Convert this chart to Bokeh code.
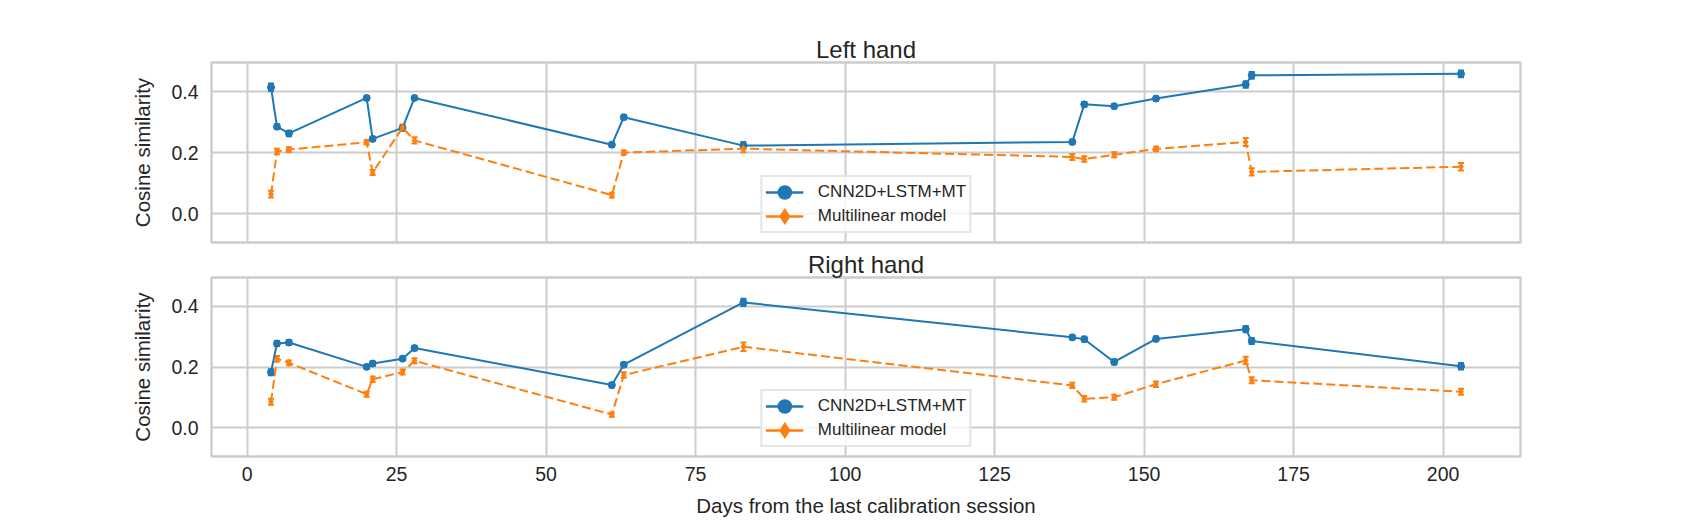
import numpy as np
from bokeh.plotting import figure
from bokeh.layouts import column
from bokeh.models import (ColumnDataSource, Whisker, TeeHead, FixedTicker, Legend,
                          LegendItem, Range1d)
from bokeh.embed import file_html
from bokeh.resources import INLINE

# ---------------- data ----------------
days = [4, 5, 7, 20, 21, 26, 28, 61, 63, 83, 138, 140, 145, 152, 167, 168, 203]

left_cnn = [0.414, 0.285, 0.263, 0.379, 0.245, 0.281, 0.379, 0.226, 0.316, 0.223,
            0.235, 0.358, 0.352, 0.377, 0.423, 0.453, 0.458]
left_cnn_err = [0.012, 0.008, 0.009, 0.006, 0.007, 0.007, 0.005, 0.007, 0.007, 0.012,
                0.007, 0.008, 0.007, 0.007, 0.011, 0.011, 0.011]
left_lin = [0.064, 0.204, 0.210, 0.234, 0.135, 0.282, 0.240, 0.061, 0.200, 0.213,
            0.186, 0.179, 0.193, 0.212, 0.235, 0.137, 0.154]
left_lin_err = [0.011, 0.009, 0.008, 0.007, 0.008, 0.010, 0.010, 0.008, 0.007, 0.012,
                0.010, 0.009, 0.008, 0.007, 0.013, 0.012, 0.012]

right_cnn = [0.183, 0.278, 0.281, 0.201, 0.212, 0.228, 0.263, 0.141, 0.208, 0.413,
             0.298, 0.292, 0.217, 0.293, 0.325, 0.286, 0.203]
right_cnn_err = [0.010, 0.008, 0.008, 0.006, 0.007, 0.006, 0.007, 0.008, 0.007, 0.012,
                 0.007, 0.008, 0.008, 0.008, 0.010, 0.010, 0.011]
right_lin = [0.086, 0.228, 0.214, 0.111, 0.160, 0.184, 0.221, 0.044, 0.174, 0.267,
             0.140, 0.096, 0.101, 0.144, 0.222, 0.157, 0.119]
right_lin_err = [0.010, 0.009, 0.008, 0.008, 0.009, 0.008, 0.008, 0.007, 0.009, 0.014,
                 0.009, 0.009, 0.008, 0.009, 0.012, 0.010, 0.010]

series_names = ["CNN2D+LSTM+MT", "Multilinear model"]
panel_titles = ["Left hand", "Right hand"]
x_ticks = [0, 25, 50, 75, 100, 125, 150, 175, 200]
y_ticks = [0.0, 0.2, 0.4]
x_label = "Days from the last calibration session"
y_label = "Cosine similarity"

BLUE = "#1f77b4"
ORANGE = "#ff7f0e"
GRID = "#cccccc"
TXT = "#262626"
FONT = "Liberation Sans"

x_range = Range1d(-5.95, 212.95)


def add_series(p, vals, errs, color, marker, msize, dash, leg_lw, join):
    x = np.array(days, dtype=float)
    y = np.array(vals)
    e = np.array(errs)
    src = ColumnDataSource(dict(x=x, y=y, lo=y - e, hi=y + e))
    p.line("x", "y", source=src, line_color=color, line_width=2, line_dash=dash)
    p.add_layout(Whisker(base="x", lower="lo", upper="hi", dimension="height", source=src,
                         line_color=color, line_width=2,
                         lower_head=TeeHead(size=6, line_color=color, line_width=2),
                         upper_head=TeeHead(size=6, line_color=color, line_width=2)))
    p.scatter("x", "y", source=src, marker=marker, size=msize, fill_color=color,
              line_color=color)
    # legend proxies (solid line with a large marker, as in the reference legend)
    proxy_l = p.line(x=[np.nan], y=[np.nan], line_color=color, line_width=2.5)
    proxy_m = p.scatter(x=[np.nan], y=[np.nan], marker=marker, size=13,
                        fill_color=color, line_color=color, line_width=leg_lw,
                        line_join=join)
    return [proxy_l, proxy_m]


def make_panel(title, cnn, cnn_err, lin, lin_err, bottom_axis, height, top, bottom):
    p = figure(width=1540, height=height, x_range=x_range,
               y_range=Range1d(-0.094, 0.495),
               output_backend="svg", toolbar_location=None,
               min_border_left=211, min_border_right=20,
               min_border_top=top, min_border_bottom=bottom)
    p.background_fill_color = "white"
    p.border_fill_color = "white"
    p.outline_line_color = GRID
    p.outline_line_width = 2.3

    p.title.text = title
    p.title.align = "center"
    p.title.text_font = FONT
    p.title.text_font_size = "24px"
    p.title.text_font_style = "normal"
    p.title.text_color = TXT
    p.title.standoff = 0

    p.xaxis.ticker = FixedTicker(ticks=x_ticks)
    p.yaxis.ticker = FixedTicker(ticks=y_ticks)
    p.xgrid.ticker = FixedTicker(ticks=x_ticks)
    p.ygrid.ticker = FixedTicker(ticks=y_ticks)
    p.yaxis.major_label_overrides = {t: f"{t:.1f}" for t in y_ticks}
    for g in (p.xgrid[0], p.ygrid[0]):
        g.grid_line_color = GRID
        g.grid_line_width = 2
    for ax in (p.xaxis[0], p.yaxis[0]):
        ax.axis_line_color = None
        ax.major_tick_line_color = None
        ax.minor_tick_line_color = None
        ax.major_tick_out = 0
        ax.major_tick_in = 0
        ax.major_label_text_font = FONT
        ax.major_label_text_font_size = "19.5px"
        ax.major_label_text_color = TXT
        ax.axis_label_text_font = FONT
        ax.axis_label_text_font_size = "20.5px"
        ax.axis_label_text_font_style = "normal"
        ax.axis_label_text_color = TXT
    p.yaxis.major_label_standoff = 13
    p.yaxis.axis_label = y_label
    p.yaxis.axis_label_standoff = 14
    if bottom_axis:
        p.xaxis.axis_label = x_label
        p.xaxis.major_label_standoff = 10
        p.xaxis.axis_label_standoff = 10
    else:
        p.xaxis.visible = False

    r1 = add_series(p, cnn, cnn_err, BLUE, "circle", 7, "solid", 5, "round")
    r2 = add_series(p, lin, lin_err, ORANGE, "diamond", 7, "9 4", 4, "miter")

    leg = Legend(items=[LegendItem(label=series_names[0], renderers=r1),
                        LegendItem(label=series_names[1], renderers=r2)],
                 location="bottom_center")
    leg.label_text_font = FONT
    leg.label_text_font_size = "17px"
    leg.label_text_color = TXT
    leg.glyph_width = 38
    leg.glyph_height = 24
    leg.label_height = 20
    leg.label_standoff = 15
    leg.spacing = 0
    leg.padding = 3
    leg.margin = 9
    leg.border_line_color = GRID
    leg.border_line_width = 2.3
    leg.background_fill_color = "white"
    leg.background_fill_alpha = 0.8
    p.add_layout(leg)
    return p


p1 = make_panel(panel_titles[0], left_cnn, left_cnn_err, left_lin, left_lin_err,
                False, 247, 62, 5)
p2 = make_panel(panel_titles[1], right_cnn, right_cnn_err, right_lin, right_lin_err,
                True, 274, 30, 65)

layout = column(p1, p2, spacing=0)
open("out.html", "w").write(file_html(layout, INLINE))
